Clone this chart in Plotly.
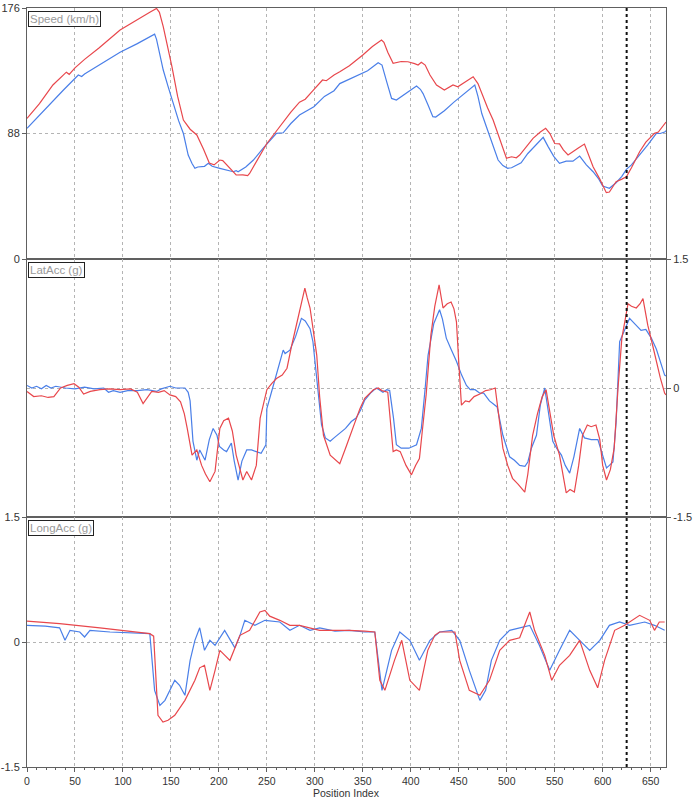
import plotly.graph_objects as go
from plotly.subplots import make_subplots

# ---------------- data ----------------
speed_red_x = [0, 13, 27, 38, 41, 44, 50, 60, 75, 97, 115, 128, 135, 138, 142, 147, 151, 157, 163, 170, 177, 184, 190, 195, 201, 204, 208, 213, 218, 225, 230, 232, 240, 250, 258, 266, 275, 284, 290, 298, 308, 312, 320, 326, 336, 350, 360, 369.5, 372, 376, 381.6, 390, 397, 404, 407.6, 411, 415, 420, 426.8, 435, 440, 444, 449, 457, 465, 470, 475, 480, 485.8, 492, 499.7, 505, 510, 513.5, 520, 527.4, 535, 540.6, 545, 550, 555, 559, 563.9, 569, 575, 581, 585, 590, 597, 603.8, 607, 614, 620, 624.7, 630, 638.5, 645, 654, 658, 664.6, 666]
speed_red_y = [98.6, 109, 122, 129, 131, 129.5, 134, 140, 148, 160.5, 168, 173, 175.7, 173, 163, 148, 135, 114, 97.4, 91, 87, 77, 67.3, 66, 69.4, 69, 65.9, 62, 58.9, 59, 58.5, 60, 69, 81, 88, 95.3, 103, 110, 112, 118, 125.5, 125, 129, 131.3, 135.5, 143, 149, 153.5, 152, 145, 137.2, 138.5, 138.3, 137, 136, 138, 136, 129, 122, 118.5, 120.5, 122, 120.7, 124, 127.8, 123, 113.8, 106, 97.4, 85, 70.6, 71.7, 71, 72.9, 78, 84.6, 89, 91.6, 88, 81, 80.7, 76.5, 72.9, 75, 78, 80.6, 74, 64.7, 56, 46.5, 47, 54.2, 56, 57.7, 64, 75.2, 82, 88.1, 89, 95.1, 96]

speed_blue_x = [0, 13, 27, 38, 53.5, 57, 60, 75, 97, 115, 133, 135, 138, 142, 147, 152.4, 158, 163, 168, 172, 175, 178, 181, 185, 189, 193, 201, 208, 215, 218, 220, 228, 236, 246, 253, 260, 267, 275, 284, 299, 310, 320, 326, 336, 345, 355, 366, 370, 375, 380, 385, 395, 406, 410, 412.8, 418, 423, 426, 435, 445, 456, 466.7, 470, 474, 478.8, 485, 491, 496, 501, 505, 510, 515, 522, 530, 538, 543, 549, 555, 562, 569, 576, 583, 590, 596, 600, 607, 614, 620, 624.7, 630, 638.5, 647, 656, 660, 664.6, 666]
speed_blue_y = [91.6, 101, 111, 118.5, 129, 128, 129.7, 136, 145, 151, 157.7, 154, 145, 132.5, 121, 109, 97, 88, 72.9, 67, 63.6, 64.5, 64.7, 65, 67.1, 65, 63.6, 62.5, 61.2, 62, 61.2, 64.5, 69.4, 77.6, 83, 88.1, 88.5, 95, 101, 106.8, 114, 118, 123, 126, 128.5, 132, 137.6, 136, 124, 112.6, 111.5, 116, 121.3, 119, 116, 108, 99.8, 99.5, 104, 110, 116, 122, 114, 102, 92.7, 80, 69.4, 65.5, 63.6, 64, 65.9, 67.5, 74, 80, 85.3, 79, 72, 67.1, 68.6, 68.6, 72.2, 66, 61.2, 56, 51.2, 49.6, 53.5, 58, 62.9, 66, 72.9, 80, 88.1, 88, 89, 90]

lat_blue_x = [0, 5, 10, 15, 20, 25, 30, 40, 50, 60, 70, 80, 85, 90, 97, 105, 115, 125, 135, 140, 149, 155, 160, 164.6, 168, 170, 173, 177, 180, 182, 185.6, 190, 194, 198, 200.6, 205, 208, 213, 216, 220, 224, 229, 234, 239, 244, 249, 250, 256, 262, 267, 269, 274, 280, 286, 290, 295, 298, 302, 307, 311, 316, 320, 326, 332, 338, 343, 348, 352, 358, 364, 367, 371, 375, 378, 382, 385, 390, 398, 406, 411, 415, 418, 424, 430, 433, 437, 442, 447.6, 453, 458, 462, 467, 472, 476, 482, 486, 490, 496, 503, 508, 513.5, 519, 522, 525.7, 531, 535, 539.6, 543, 548, 552, 557, 561, 565.6, 570, 576, 581, 588, 595, 600, 604, 607, 610.7, 614, 617.7, 622, 628, 634, 640, 645, 650.7, 656, 660, 664.6, 666]
lat_blue_y = [0.03, 0.0, 0.02, -0.01, 0.03, 0.0, 0.02, 0.0, -0.01, 0.01, -0.01, 0.0, -0.05, -0.03, -0.05, -0.03, -0.03, -0.02, -0.04, -0.01, 0.02, 0.0, 0.0, 0.0, -0.05, -0.15, -0.62, -0.84, -0.72, -0.76, -0.84, -0.6, -0.47, -0.55, -0.68, -0.72, -0.74, -0.64, -0.85, -1.07, -0.85, -0.72, -0.72, -0.74, -0.76, -0.66, -0.24, 0.0, 0.23, 0.44, 0.40, 0.44, 0.6, 0.81, 0.78, 0.69, 0.54, 0.1, -0.43, -0.58, -0.62, -0.58, -0.53, -0.47, -0.39, -0.35, -0.25, -0.14, -0.06, 0.0, -0.02, -0.05, -0.02, -0.03, -0.35, -0.66, -0.70, -0.70, -0.66, -0.47, 0.0, 0.38, 0.75, 0.91, 0.8, 0.58, 0.45, 0.31, 0.15, 0.03, -0.02, -0.02, -0.06, -0.06, -0.15, -0.18, -0.22, -0.55, -0.8, -0.84, -0.9, -0.91, -0.86, -0.70, -0.55, -0.2, 0.0, -0.25, -0.62, -0.7, -0.78, -0.9, -0.99, -0.8, -0.47, -0.58, -0.6, -0.60, -0.8, -0.93, -0.9, -0.86, -0.4, 0.54, 0.65, 0.81, 0.74, 0.67, 0.68, 0.58, 0.45, 0.3, 0.15, 0.14]

lat_red_x = [0, 7, 15, 22, 28, 35, 42, 49, 54, 59, 66, 76, 86, 97, 108, 115, 121, 126, 130, 137, 143, 149, 155, 160, 164, 167, 172, 177, 182, 186, 190.6, 196, 201, 205, 210, 214, 218, 225, 229, 234, 239, 243, 250, 255, 260, 266, 271, 276, 281.6, 286, 289.6, 292, 295, 298, 302, 305, 309, 316, 320, 326, 332, 337, 342, 347, 352, 356, 361, 366, 370, 376, 379, 381.6, 385, 389, 395, 400.7, 405, 409, 412, 416, 421, 425, 429.5, 433.6, 438, 442, 445, 447.6, 450, 452.8, 457, 461, 466, 472, 478, 483, 488, 492, 496, 501, 506, 512, 518.8, 522, 527, 532, 537, 541, 545, 549, 555, 559, 562, 566, 570.5, 575, 579, 584, 588, 593, 597, 600, 604, 608, 612, 616, 620, 626.4, 630, 635, 639, 642, 647, 652, 656, 660, 664.6, 666]
lat_red_y = [-0.04, -0.10, -0.09, -0.11, -0.10, 0.0, 0.03, 0.05, 0.01, -0.07, -0.04, -0.02, -0.01, -0.02, -0.01, -0.05, -0.18, -0.1, -0.04, -0.05, -0.03, -0.08, -0.1, -0.16, -0.3, -0.47, -0.78, -0.72, -0.9, -1.0, -1.09, -0.97, -0.47, -0.38, -0.35, -0.5, -0.78, -1.07, -0.97, -1.07, -0.9, -0.35, -0.02, 0.05, 0.11, 0.15, 0.23, 0.5, 0.77, 1.0, 1.16, 1.05, 0.93, 0.7, 0.38, -0.1, -0.55, -0.78, -0.82, -0.88, -0.7, -0.55, -0.4, -0.24, -0.12, -0.07, -0.02, 0.0, -0.03, -0.05, -0.4, -0.74, -0.72, -0.74, -0.9, -1.01, -0.9, -0.82, -0.5, -0.08, 0.62, 0.95, 1.2, 0.93, 0.98, 1.0, 0.92, 0.77, 0.3, -0.2, -0.15, -0.16, -0.1, -0.07, -0.03, -0.02, 0.0, -0.35, -0.70, -0.9, -1.05, -1.12, -1.21, -1.0, -0.55, -0.3, -0.1, -0.02, -0.3, -0.55, -0.78, -1.05, -1.22, -1.18, -1.21, -0.9, -0.55, -0.43, -0.45, -0.43, -0.6, -0.9, -1.07, -0.95, -0.7, 0.0, 0.58, 0.98, 0.95, 0.93, 0.98, 1.04, 0.73, 0.5, 0.31, 0.12, -0.06, -0.08]

long_red_x = [0, 34, 76, 107, 128, 132, 136.5, 141.7, 147, 154, 164.6, 175, 180, 185, 190.6, 196, 201, 211.5, 222, 232, 242.7, 248, 253, 263.5, 274, 284, 295, 305, 321, 336, 352, 362.5, 367.7, 373, 378, 383, 390.6, 399, 409, 417.7, 425, 430, 446, 451, 461, 472, 482, 492.7, 503, 513.5, 524, 529, 539.6, 546.9, 555, 565.6, 576, 586.5, 594.8, 602, 612.5, 623, 638.5, 649, 654, 659, 664.6]
long_red_y = [0.25, 0.22, 0.17, 0.13, 0.10, 0.07, -0.88, -0.96, -0.94, -0.88, -0.70, -0.46, -0.31, -0.28, -0.58, -0.34, -0.10, -0.22, 0.08, 0.14, 0.36, 0.38, 0.31, 0.26, 0.2, 0.2, 0.17, 0.14, 0.14, 0.14, 0.13, 0.12, -0.46, -0.58, -0.40, -0.22, 0.02, -0.46, -0.58, -0.10, 0.08, 0.12, 0.12, -0.22, -0.58, -0.64, -0.46, -0.10, 0.02, 0.05, 0.36, 0.14, -0.16, -0.46, -0.28, -0.16, 0.02, -0.34, -0.55, -0.22, 0.14, 0.2, 0.32, 0.26, 0.14, 0.24, 0.24]

long_blue_x = [0, 19, 34, 39.6, 44.8, 55, 60, 65.6, 86.5, 107, 128, 133, 138.5, 143.8, 149, 154, 159, 164.6, 170, 175, 180, 185, 190.6, 196, 206, 216.7, 222, 227, 237.5, 248, 263.5, 274, 284, 295, 305, 321, 336, 352, 362.5, 370, 375, 380, 388.5, 399, 409, 414.6, 420, 430, 442.7, 451, 461, 472, 478, 484, 492.7, 503, 513.5, 524, 534, 544.8, 555, 565.6, 576, 586.5, 597, 607, 617.7, 628, 643.8, 654, 664.6]
long_blue_y = [0.2, 0.19, 0.17, 0.02, 0.14, 0.12, 0.06, 0.14, 0.12, 0.11, 0.10, -0.58, -0.76, -0.70, -0.58, -0.46, -0.52, -0.64, -0.22, 0.02, 0.17, -0.10, 0.02, -0.04, 0.14, -0.07, 0.08, 0.26, 0.2, 0.26, 0.24, 0.14, 0.2, 0.14, 0.17, 0.13, 0.14, 0.12, 0.12, -0.58, -0.34, -0.10, 0.12, 0.02, -0.22, -0.10, 0.02, 0.12, 0.14, 0.02, -0.34, -0.70, -0.58, -0.22, 0.02, 0.14, 0.17, 0.2, -0.04, -0.34, -0.10, 0.14, 0.02, -0.10, 0.02, 0.2, 0.24, 0.2, 0.24, 0.2, 0.14]

panel_titles = ["Speed (km/h)", "LatAcc (g)", "LongAcc (g)"]
speed_ticks = [0, 88, 176]
acc_ticks = [-1.5, 0, 1.5]
x_ticks = list(range(0, 700, 50))
cursor_pos = 625

# ---------------- figure ----------------
RED = "#e8474c"
BLUE = "#4a7fe8"
AXC = "#606060"
GRIDC = "#b4b4b4"
FONT = "Liberation Sans"

fig = make_subplots(rows=3, cols=1, shared_xaxes=True, vertical_spacing=0,
                    row_heights=[251, 258, 250])

series = [
    (1, speed_blue_x, speed_blue_y, speed_red_x, speed_red_y),
    (2, lat_blue_x, lat_blue_y, lat_red_x, lat_red_y),
    (3, long_blue_x, long_blue_y, long_red_x, long_red_y),
]
for row, bx, by, rx, ry in series:
    fig.add_trace(go.Scatter(x=bx, y=by, mode="lines", line=dict(color=BLUE, width=1.2),
                             showlegend=False, hoverinfo="skip"), row=row, col=1)
    fig.add_trace(go.Scatter(x=rx, y=ry, mode="lines", line=dict(color=RED, width=1.2),
                             showlegend=False, hoverinfo="skip"), row=row, col=1)

xcommon = dict(range=[0, 666], tickvals=x_ticks, showgrid=True, griddash="dot",
               gridcolor=GRIDC, gridwidth=1, showline=True, mirror=True,
               linecolor=AXC, linewidth=1, zeroline=False, automargin=False)
for r in (1, 2):
    fig.update_xaxes(showticklabels=False, ticks="", row=r, col=1, **xcommon)
fig.update_xaxes(row=3, col=1, ticks="outside", ticklen=4, tickcolor=AXC,
                 tickfont=dict(family=FONT, size=10.5, color="#333"),
                 minor=dict(dtick=10, tick0=0, ticks="outside", ticklen=2, tickcolor=AXC, showgrid=False),
                 **xcommon)

ycommon = dict(showgrid=True, griddash="dot", gridcolor=GRIDC, gridwidth=1,
               showline=True, mirror=True, linecolor=AXC, linewidth=1, zeroline=False,
               ticks="outside", ticklen=4, tickcolor=AXC, automargin=False,
               tickfont=dict(family=FONT, size=11, color="#333"))
fig.update_yaxes(row=1, col=1, range=[0, 176], tickvals=speed_ticks,
                 ticktext=[str(v) for v in speed_ticks], **ycommon)
fig.update_yaxes(row=2, col=1, range=[-1.5, 1.5], tickvals=acc_ticks,
                 ticktext=["-1.5", "0", "1.5"], side="right", **ycommon)
fig.update_yaxes(row=3, col=1, range=[-1.5, 1.5], tickvals=acc_ticks,
                 ticktext=["-1.5", "0", "1.5"], **ycommon)

# panel titles
for i, title in enumerate(panel_titles):
    yaxis = fig.layout["yaxis" if i == 0 else f"yaxis{i+1}"]
    top = yaxis.domain[1]
    fig.add_annotation(text=title, xref="paper", yref="paper", x=0, y=top,
                       xanchor="left", yanchor="top", xshift=1, yshift=-3,
                       showarrow=False, bordercolor="#222", borderwidth=1, borderpad=1,
                       bgcolor="white", font=dict(family=FONT, size=11.5, color="#9a9a9a"))

# cursor line
fig.add_shape(type="line", xref="x3", yref="paper", x0=cursor_pos, x1=cursor_pos,
              y0=0, y1=1, line=dict(color="#111", width=2, dash="dot"))

fig.add_annotation(text="Position Index", xref="paper", yref="paper", x=0.5, y=-0.034,
                   xanchor="center", yanchor="middle", showarrow=False,
                   font=dict(family=FONT, size=10.5, color="#333"))

fig.update_layout(width=696, height=799, margin=dict(l=27, r=30, t=8, b=32),
                  plot_bgcolor="white", paper_bgcolor="white",
                  font=dict(family=FONT, size=11, color="#333"))

fig.write_html("out.html", config={"displayModeBar": False},
               post_script="document.body.style.margin='0';document.body.style.overflow='hidden';")
